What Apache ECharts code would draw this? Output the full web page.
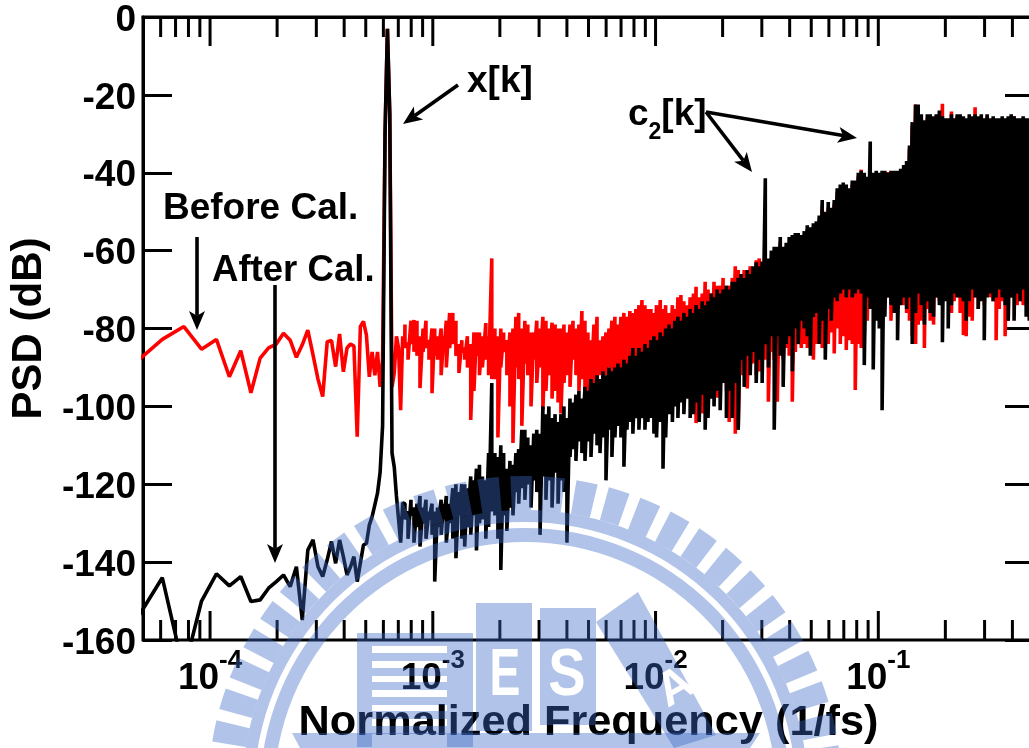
<!DOCTYPE html>
<html><head><meta charset="utf-8">
<style>html,body{margin:0;padding:0;background:#fff;overflow:hidden}#c{width:1029px;height:748px}</style>
<script src="https://cdn.jsdelivr.net/npm/echarts@6/dist/echarts.min.js"></script>
</head><body><div id="c"></div>
<script>
// FFT bin numbers of the resolved low-frequency part (bin width 1/65536 of fs)
const lowBins=[3,4,5,6,7,8,9,10,11,12,13,14,15,16,17,18,19,20,21,22,23,24,25,26,27,28,29,30,31,32,33,34,35,36,37,38,39,40,41,42,43,44,45,46,47,48,49];
const redLow=[-89,-82.8,-79.5,-85.3,-82.8,-92.4,-85.7,-96.5,-87.6,-85,-84,-81.2,-83,-87.4,-84.2,-80.4,-86.8,-93,-97.5,-83.4,-83.1,-89.8,-81.4,-91.1,-85,-84,-84.5,-107.8,-79.5,-78.2,-81.7,-92.4,-86,-92,-86,-95,-88,-30,-3,-25,-95,-91.4,-82,-85,-101,-82,-85];
const blackLow=[-155.6,-144,-168,-150,-143,-146.1,-143.7,-150.1,-149.7,-146.7,-145,-143.3,-146.3,-141.2,-154.9,-136.9,-134.3,-141.2,-143.7,-139.4,-134.7,-140.3,-134.3,-138.6,-143.3,-141.2,-138.6,-145,-140.2,-135.6,-135.2,-130.5,-128.3,-125.3,-122.3,-117,-105,-30,-3,-25,-112,-115.6,-123,-129,-135,-124.8];
// dense part: frequency of each read-off column (in 1/1000 fs), then upper and lower reach of each trace
const bandMilli=[
.750,.774,.798,.823,.849,.876,.904,.932,.961,.992,
1.02,1.05,1.09,1.12,1.15,1.19,1.23,1.27,1.31,1.35,
1.39,1.43,1.48,1.53,1.57,1.62,1.67,1.73,1.78,1.84,
1.90,1.96,2.02,2.08,2.15,2.22,2.29,2.36,2.43,2.51,
2.59,2.67,2.76,2.84,2.93,3.03,3.12,3.22,3.32,3.43,
3.54,3.65,3.76,3.88,4.00,4.13,4.26,4.39,4.53,4.67,
4.82,4.97,5.13,5.29,5.46,5.63,5.81,5.99,6.18,6.37,
6.57,6.78,6.99,7.21,7.44,7.67,7.91,8.16,8.42,8.69,
8.96,9.24,9.53,9.83,10.1,10.5,10.8,11.1,11.5,11.9,
12.2,12.6,13.0,13.4,13.9,14.3,14.8,15.2,15.7,16.2,
16.7,17.2,17.8,18.3,18.9,19.5,20.1,20.8,21.4,22.1,
22.8,23.5,24.2,25.0,25.8,26.6,27.4,28.3,29.2,30.1,
31.1,32.1,33.1,34.1,35.2,36.3,37.4,38.6,39.8,41.1,
42.4,43.7,45.1,46.5,48.0,49.5,51.1,52.7,54.3,56.0,
57.8,59.6,61.5,63.4,65.4,67.5,69.6,71.8,74.1,76.4,
78.8,81.3,83.8,86.5,89.2,92.0,94.9,97.9,101,104,
107,111,114,118,122,126,130,134,138,142,
147,151,156,161,166,171,177,182,188,194,
200,206,213,219,226,233,241,248,256,264,
272,281,290,299,308,318,328,338,349,360,
371,383,395,407,420,433,447,461,476,491,500];
const blackTop=[
-125,-127,-124,-126,-125,-123,-126,-124,-127,-125,
-127,-126,-124,-125,-123,-125,-121,-120,-122,-120,
-120,-121,-118,-119,-116,-115,-118,-119,-112,-94,
-112,-113,-110,-112,-116,-114,-115,-112,-111,-106,
-106,-108,-110,-107,-106,-107,-100,-102,-100,-103,
-102,-104,-102,-100,-103,-98,-99,-97,-96,-98,
-95,-96,-93,-94,-92,-93,-91,-92,-90,-91,
-90,-89,-90,-88,-89,-87,-85,-87,-85,-86,
-84,-85,-83,-82,-83,-81,-82,-80,-79,-80,
-78,-77,-78,-76,-77,-75,-76,-74,-75,-73,
-74,-73,-71,-72,-70,-71,-70,-69,-70,-68,
-68,-67,-66,-67,-65,-66,-64,-63,-64,-62.8,
-41.4,-62,-60,-59,-59,-56.5,-59,-58,-56.5,-56,
-55.5,-55.5,-56,-55,-53.5,-54,-53,-52.5,-51,-47,
-50,-47.5,-49,-47,-44,-43,-42.5,-43,-44,-42,
-42,-40,-39.5,-40,-41,-32,-40,-39.5,-40,-39.5,
-39.5,-40,-39.5,-39.5,-39.5,-39,-38,-37,-33,-27,
-22.5,-22.5,-25,-26.5,-25,-25,-25.5,-25,-24,-25.5,
-26,-26,-25,-26,-25,-25,-25.5,-26,-25,-25.5,
-25,-25.5,-25,-26,-25,-26,-25.5,-26,-26,-25.5,
-26,-25.5,-25,-25.5,-26,-26,-25.5,-26,-26,-26,-26];
const blackBottom=[
-129,-134,-128,-135,-131,-136,-130,-134,-129,-133,
-145,-131,-133,-129,-135,-130,-134,-139,-128,-134,
-136,-131,-133,-128,-137,-130,-129,-134,-131,-127,
-128,-134,-142,-128,-132,-126,-128,-122,-125,-121,
-124,-120,-126,-119,-122,-133,-118,-124,-119,-126,
-117,-125,-119,-122,-135,-113,-111,-114,-109,-112,
-114,-109,-113,-107,-110,-112,-108,-119,-106,-113,
-108,-105,-108,-115.5,-106,-104,-107,-103,-106,-103,
-106,-104,-103,-107,-108,-104,-116,-108,-102,-104,
-100,-103,-99,-102,-98,-103,-102,-99,-104,-97,
-106,-103,-98,-100,-96,-101,-94,-103,-96,-103,
-94,-106,-88,-95,-87,-92,-86,-94,-88,-94,
-84,-90,-82,-106,-82,-87,-95,-84,-82,-91,
-80,-84,-78,-80,-82,-87,-77,-76,-84,-78,
-88,-75,-78,-72,-73,-71,-70,-72,-70,-72,
-71,-70,-71,-89.4,-72,-75,-90.5,-78,-80,-101,
-77,-72,-74,-76,-83,-74,-72,-75,-72,-84,
-76,-71,-74,-79,-73,-76,-77,-72,-74,-83.5,
-73,-80,-74,-71,-72,-72,-73,-78,-73,-70,
-72,-75,-73,-83,-72,-71,-73,-72,-70,-72,
-74,-78,-72,-78,-71,-73,-70,-77,-78,-75,-74];
const redTop=[
-79,-84,-78,-77.8,-78,-82,-80,-78,-83,-80,
-80,-82,-80,-82,-78,-76,-76,-78,-84,-83,
-85,-82,-84,-81,-81,-81,-82,-78.6,-82,-62,
-80,-82,-80,-81,-83,-81,-80,-77,-76,-80,
-78,-79,-81,-81,-78,-80,-77,-78,-80,-78.5,
-79,-80,-80,-79,-81,-79,-78,-80,-79,-75.5,
-78,-81,-83,-79,-77,-83,-82,-81,-80,-78,
-77,-79,-77,-76,-77,-75.5,-76,-75,-74,-72.7,
-74,-75,-75,-76,-74,-72.7,-75,-74,-76,-74,
-75,-72,-71.4,-73,-74,-72,-71,-69.3,-72,-71,
-68,-70,-71,-68,-69,-69,-67,-70,-69,-67,
-64,-65,-67,-65,-66,-64,-65,-62.5,-62,-63,
-64,-63,-62,-60.5,-60.5,-58,-60,-59,-58,-57.5,
-56.5,-56.5,-57,-56,-54.5,-55,-54,-53.5,-52,-48.5,
-51,-49,-50,-48,-45,-44,-43.5,-44,-45,-43,
-43,-41,-39.2,-41,-42,-41,-41,-40.5,-41,-40.5,
-40.5,-39.8,-40.5,-40.5,-40.5,-40,-39,-38,-34,-28,
-22.5,-23,-26,-27,-26,-26,-26.5,-26,-25,-22.3,
-27,-26.5,-24.3,-27,-25.5,-27,-26.5,-27,-27,-26.5,
-23.2,-26.5,-26,-27,-25.5,-27,-27,-27,-27,-27,
-27,-26.5,-27,-25.5,-27,-27,-27,-27,-27,-27,-27];
const redBottom=[
-84,-88,-84,-86,-87,-95.3,-86,-85,-88,-96.6,
-87,-88,-92,-86,-90,-85,-84,-87,-91.4,-86,
-88,-90,-103.5,-96,-87,-92,-90,-88,-92,-93,
-93,-108,-90,-86,-92,-100,-109.4,-90,-93,-105,
-89,-92,-100,-88,-94,-90,-101,-96,-92,-98,
-96,-99,-101.8,-94,-92,-95,-88,-92,-96,-93,
-98,-96,-95,-94,-93,-92,-91,-92,-90,-93,
-95,-92,-95,-93,-92,-95,-93,-96,-94,-92,
-95,-94,-96,-93,-95,-94,-96,-95,-93,-95,
-96,-98,-95,-93,-95,-97,-94,-104.3,-96,-101.8,
-95,-94,-92,-98,-97.8,-94,-92,-96,-104,-95,
-107,-106,-92,-90,-95.4,-90,-89,-92,-91,-88,
-88,-98.8,-86,-88,-98.8,-86,-88,-85,-87,-98.8,
-86,-83,-85,-84,-85,-83,-88,-84,-84,-85,
-83,-84,-81,-86.4,-80,-84,-82,-85.5,-83,-84,
-95.8,-84,-85,-82,-78,-75,-74,-76,-72,-74,
-73,-72,-78,-76,-75,-72,-74,-76,-78,-82,
-84,-79,-78,-85,-75,-78,-79,-72,-73,-72,
-72,-71,-76,-73,-72,-76,-81.7,-82,-77,-78,
-72,-75,-72,-74,-70,-72,-73,-83,-75,-73,
-82,-78,-72,-71,-74,-73,-74,-72,-73,-75,-74];
const majorFreq=[1e-4,1e-3,.01,.1];
const minorFreq=[6e-5,7e-5,8e-5,9e-5,2e-4,3e-4,4e-4,5e-4,6e-4,7e-4,8e-4,9e-4,2e-3,3e-3,4e-3,5e-3,6e-3,7e-3,8e-3,9e-3,.02,.03,.04,.05,.06,.07,.08,.09,.2,.3,.4];
const yTicks={min:-160,max:0,step:20};
const xExtent={min:5e-5,max:.5};

function trace(low,top,bottom){
  const pts=lowBins.slice(0,low.length).map((k,i)=>[k/65536,low[i]]);
  bandMilli.forEach((m,i)=>{pts.push([m/1000,top[i]]);pts.push([m/1000,bottom[i]]);});
  return pts;
}
const FONT='"Liberation Sans"';
const INK='rgba(59,104,198,0.4)';

function arrow(x1,y1,x2,y2){
  const a=Math.atan2(y2-y1,x2-x1),L=19,W=8,c=Math.cos(a),s=Math.sin(a);
  const bx=x2-L*c,by=y2-L*s,nx=x2-L*.75*c,ny=y2-L*.75*s;
  return [
    {type:'line',z:50,shape:{x1,y1,x2:nx,y2:ny},style:{stroke:'#000',lineWidth:3.6}},
    {type:'polygon',z:50,shape:{points:[[x2,y2],[bx-W*s,by+W*c],[nx,ny],[bx+W*s,by-W*c]]},style:{fill:'#000'}}
  ];
}
function label(text,x,y,size){
  return {type:'text',z:50,x,y,style:{text,font:'bold '+size+'px '+FONT,fill:'#000',textVerticalAlign:'middle'}};
}
const deg=Math.PI/180, CX=525, CY=793;
function sector(r0,r,a0,a1){
  return {type:'sector',z:100,silent:true,shape:{cx:CX,cy:CY,r0,r,startAngle:a0*deg,endAngle:a1*deg,clockwise:true},style:{fill:INK}};
}
function rect(x,y,w,h){return {type:'rect',z:100,silent:true,shape:{x,y,width:w,height:h},style:{fill:INK}};}
const seal=[];
for(let n=-30;n<30;n++){const c=-90+5.3+6*n;seal.push(sector(283,317,c-1.95,c+1.95));}
seal.push(sector(271,283,180,360),sector(251,265,180,360));
// striped block
seal.push(rect(357,633,116,13),rect(357,646,15,101),rect(447,646,26,101));
[653,668,682,697,711,726].forEach(y=>seal.push(rect(372,y,75,8)));
// E and S blocks
seal.push(rect(476,603,56,128));
seal.push(rect(540,608,56,117));
seal.push({type:'polygon',z:100,silent:true,shape:{points:[[596,622],[638,592],[716,735],[674,748]]},style:{fill:INK}});
seal.push({type:'polygon',z:100,silent:true,shape:{points:[[292,733],[760,733],[750,748],[300,748]]},style:{fill:INK}});
seal.push({type:'text',z:101,silent:true,x:505,y:677,scaleX:.7,style:{text:'E',font:'bold 66px '+FONT,fill:'#fff',textAlign:'center',textVerticalAlign:'middle'}});
seal.push({type:'text',z:101,silent:true,x:567,y:677,scaleX:.85,style:{text:'S',font:'bold 66px '+FONT,fill:'#fff',textAlign:'center',textVerticalAlign:'middle'}});
seal.push({type:'text',z:101,silent:true,x:676,y:688,rotation:.52,style:{text:'A',font:'bold 48px '+FONT,fill:'#fff',textAlign:'center',textVerticalAlign:'middle'}});

function tickSeries(name,freqs,len){
  return {name,type:'custom',data:freqs.map(f=>[f]),encode:{x:0},clip:false,z:5,silent:true,
    renderItem(params,api){
      const b=api.coord([api.value(0),yTicks.min]),t=api.coord([api.value(0),yTicks.max]),st={stroke:'#000',lineWidth:3};
      return {type:'group',children:[
        {type:'line',shape:{x1:b[0],y1:b[1],x2:b[0],y2:b[1]-len},style:st},
        {type:'line',shape:{x1:t[0],y1:t[1],x2:t[0],y2:t[1]+len},style:st}
      ]};
    }};
}

const option={
  animation:false,
  backgroundColor:'#fff',
  grid:{show:true,left:143,top:17,width:891,height:623,borderColor:'#000',borderWidth:3,backgroundColor:'transparent',outerBoundsMode:'none',containLabel:false},
  xAxis:{
    type:'log',logBase:10,min:xExtent.min,max:xExtent.max,position:'bottom',
    name:'Normalized Frequency (1/fs)',nameLocation:'middle',nameGap:57,
    nameTextStyle:{fontFamily:FONT,fontWeight:'bold',fontSize:43.3,color:'#000'},
    axisLine:{lineStyle:{color:'#000',width:3}},
    axisTick:{show:false},
    minorTick:{show:false},splitLine:{show:false},minorSplitLine:{show:false},
    axisLabel:{margin:8,showMinLabel:false,showMaxLabel:false,
      formatter:v=>'{b|10}{s|'+Math.round(Math.log10(v))+'}',
      rich:{b:{fontFamily:FONT,fontWeight:'bold',fontSize:37,color:'#000',verticalAlign:'top',padding:[12,0,0,0]},
            s:{fontFamily:FONT,fontWeight:'bold',fontSize:26,color:'#000',verticalAlign:'top'}}}
  },
  yAxis:[{
    type:'value',min:yTicks.min,max:yTicks.max,interval:yTicks.step,position:'left',
    name:'PSD (dB)',nameLocation:'middle',nameGap:93,
    nameTextStyle:{fontFamily:FONT,fontWeight:'bold',fontSize:42,color:'#000'},
    axisLine:{show:true,lineStyle:{color:'#000',width:3}},
    axisTick:{show:true,inside:true,length:29,lineStyle:{color:'#000',width:3}},
    splitLine:{show:false},
    axisLabel:{margin:7,formatter:'{v|{value}}',
      rich:{v:{fontFamily:FONT,fontWeight:'bold',fontSize:37,color:'#000',padding:[7,0,0,0]}}}
  },{
    type:'value',min:yTicks.min,max:yTicks.max,interval:yTicks.step,position:'right',
    axisLine:{show:false},axisLabel:{show:false},splitLine:{show:false},
    axisTick:{show:true,inside:true,length:29,lineStyle:{color:'#000',width:3}}
  }],
  series:[
    {name:'Before Cal.',type:'line',data:trace(redLow,redTop,redBottom),showSymbol:false,symbol:'none',z:3,clip:true,sampling:null,
     lineStyle:{color:'#ff0000',width:3.6,join:'bevel'}},
    {name:'After Cal.',type:'line',data:trace(blackLow,blackTop,blackBottom),showSymbol:false,symbol:'none',z:4,clip:true,sampling:null,
     lineStyle:{color:'#000',width:3.6,join:'bevel'}},
    tickSeries('minor ticks',minorFreq,20),
    tickSeries('major ticks',majorFreq,29)
  ],
  graphic:{elements:[
    ...arrow(458,85,403,124),
    ...arrow(706,112,857,138),
    ...arrow(706,112,752,172),
    ...arrow(197,237,197,330),
    ...arrow(275,285,275,563),
    label('x[k]',467,82,37),
    label('Before Cal.',163,209,37),
    label('After Cal.',212,271,36.6),
    {type:'text',z:50,x:628,y:96,style:{text:'{a|c}{s|2}{a|[k]}',textVerticalAlign:'top',rich:{
      a:{font:'bold 37px '+FONT,fill:'#000',verticalAlign:'top'},s:{font:'bold 23px '+FONT,fill:'#000',verticalAlign:'top',padding:[25,0,0,0]}}}},
    ...seal
  ]}
};
const chart=echarts.init(document.getElementById('c'),null,{renderer:'canvas',width:1029,height:748});
chart.setOption(option);
</script></body></html>
